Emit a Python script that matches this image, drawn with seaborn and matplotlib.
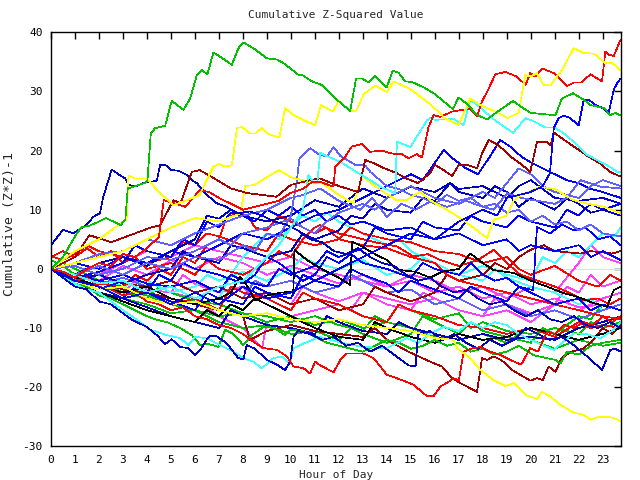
import matplotlib
matplotlib.use("Agg")
import matplotlib.pyplot as plt
import seaborn as sns
import pandas as pd

# ---- axis / text content ----
title = "Cumulative Z-Squared Value"
xlabel = "Hour of Day"
ylabel = "Cumulative (Z*Z)-1"
x_ticks = list(range(0, 24))
y_ticks = [-30, -20, -10, 0, 10, 20, 30, 40]

# ---- series: (hour, cumulative value) ----
zero_line = [(0, 0), (23.75, 0)]

green_top = [(0, 0), (0.5, 2), (1.0, 5.5), (1.25, 7), (1.6, 7.3), (2.0, 8), (2.3, 8.6), (2.9, 7.4), (3.1, 8.3),
             (3.2, 13.6), (3.9, 14.5), (4.02, 15), (4.16, 22.9), (4.34, 23.8), (4.76, 24.2), (5.03, 28.4),
             (5.52, 26.9), (5.80, 28.8), (6.08, 32.8), (6.29, 33.6), (6.52, 32.9), (6.77, 36.6), (7.12, 35.7),
             (7.54, 34.5), (7.81, 37.3), (8.02, 38.3), (8.44, 37.3), (9.0, 35.6), (9.42, 35.4), (9.69, 34.8),
             (10.32, 32.8), (10.46, 32.8), (10.88, 31.7), (11.29, 31.1), (11.92, 28.6), (12.47, 26.7),
             (12.72, 32.2), (12.96, 32.2), (13.24, 31.5), (13.49, 32.6), (14.0, 30.7), (14.24, 33.5),
             (14.48, 33.2), (14.77, 31.7), (15.05, 31.6), (15.53, 30.7), (15.95, 29.7), (16.23, 28.8),
             (16.76, 27.0), (16.99, 29.0), (17.34, 27.9), (17.76, 26.0), (18.18, 25.3), (18.73, 26.9),
             (19.26, 28.4), (19.57, 27.5), (19.98, 26.4), (20.4, 26.2), (21.03, 26.0), (21.3, 28.8),
             (21.76, 29.7), (22.21, 28.6), (22.49, 27.7), (23.04, 27.2), (23.32, 26.0), (23.53, 26.4),
             (23.75, 25.9)]

yellow_top = [(0, 0), (1, 3), (2, 5), (3, 8), (3.15, 8.3), (3.23, 15.8), (3.5, 15.3), (3.99, 15.3), (4.5, 13),
              (5.1, 10.8), (5.6, 11.5), (6.2, 12.5), (6.56, 15.6), (6.77, 17.3), (7.0, 17.7), (7.26, 17.3),
              (7.54, 17.5), (7.75, 23.8), (7.96, 24.0), (8.30, 22.9), (8.51, 22.9), (8.79, 23.8), (9.07, 22.8),
              (9.52, 22.2), (9.76, 27.2), (10.11, 26.0), (10.67, 24.9), (11.01, 24.3), (11.26, 27.7),
              (11.75, 26.6), (11.99, 28.4), (12.47, 26.7), (12.72, 26.7), (13.03, 29.5), (13.52, 31.0),
              (14.0, 29.9), (14.28, 31.7), (14.98, 30.4), (15.67, 28.3), (16.23, 26.3), (16.37, 25.6),
              (16.99, 24.3), (17.48, 28.8), (17.9, 27.7), (18.52, 26.6), (19.04, 25.5), (19.5, 26.4),
              (19.77, 32.8), (19.98, 32.5), (20.26, 33.1), (20.54, 31.1), (20.82, 31.0), (21.07, 32.4),
              (21.3, 33.6), (21.79, 37.3), (22.21, 36.5), (22.63, 36.4), (23.11, 34.8), (23.4, 34.8),
              (23.75, 33.6)]

red_top = [(0, 0), (0.5, -0.5), (1, -1.5), (1.5, 0), (2, 1), (2.5, 0.5), (3, 2.5), (3.5, 2), (4, 3.5), (4.5, 5.4),
           (4.7, 11.6), (5.2, 11), (5.6, 10.5), (6.2, 13.3), (6.6, 13), (7, 12), (7.5, 11), (8, 10), (8.5, 10.5),
           (9, 11), (9.5, 11.5), (9.97, 12.8), (10.5, 13.5), (10.88, 14.7), (11.22, 14.7), (11.78, 13.9),
           (11.85, 17.3), (12.27, 19.0), (12.54, 20.7), (12.96, 21.1), (13.3, 19.8), (13.8, 20.0), (14.2, 19.5),
           (14.63, 19.4), (14.9, 18.7), (15.25, 19.4), (15.46, 18.8), (15.74, 24.0), (15.95, 26.0),
           (16.23, 25.7), (16.72, 26.6), (17.2, 26.9), (17.48, 27.0), (17.76, 25.8), (17.97, 28.3),
           (18.25, 30.5), (18.52, 32.9), (18.94, 33.3), (19.43, 32.5), (19.78, 31.1), (19.98, 33.1),
           (20.19, 32.5), (20.47, 33.9), (20.96, 33.1), (21.51, 30.9), (21.79, 31.5), (22.1, 31.5),
           (22.49, 32.9), (22.97, 31.7), (23.11, 36.7), (23.25, 36.2), (23.46, 36.0), (23.75, 38.8)]

blue_top = [(0, 0), (1, -2), (2, -3), (3, -5), (4, -4), (5, -6), (6, -4), (7, -6), (8, -3), (9, -5), (10, -4),
            (11, -2), (12, 0), (13, 2), (14, 4), (15, 6), (16, 5), (17, 8), (18, 10), (18.6, 9), (19, 12),
            (19.5, 12.5), (20, 13), (20.5, 14), (20.8, 16.2), (20.96, 23.8), (21.17, 25.5), (21.38, 25.9),
            (21.6, 25.6), (22.0, 24.3), (22.21, 28.6), (22.45, 28.5), (22.7, 27.7), (23.0, 27.2),
            (23.25, 26.4), (23.46, 30.3), (23.6, 31.4), (23.75, 32.2)]

cyan_top = [(0, 0), (1, -1), (2, -2.5), (3, -2), (4, -4), (5, -3), (6, -5), (7, -3), (8, -2), (9, 2), (9.5, 4),
            (10, 7), (10.5, 10), (10.73, 15.9), (10.95, 14.5), (11.1, 14.5), (11.22, 19.6), (11.43, 19.2),
            (12.06, 18.1), (12.61, 16.7), (13.3, 15), (13.73, 13.9), (14.35, 12.8), (14.42, 21.5),
            (14.98, 20.6), (15.67, 25.1), (15.81, 25.5), (16.02, 25.2), (16.51, 25.3), (16.8, 25.3),
            (17.2, 24.3), (17.48, 28.6), (17.9, 27.3), (18.38, 25.5), (19.26, 23.0), (19.78, 25.5),
            (20.1, 25.0), (20.61, 23.9), (21.0, 23.9), (21.38, 22.9), (21.79, 21.5), (22.35, 19.3),
            (22.9, 18.1), (23.32, 17.2), (23.6, 16.4), (23.75, 16.4)]

darkred_top = [(0, 0), (1, 2), (1.6, 5.7), (2.5, 4.5), (3.3, 5.7), (4.1, 6.9), (4.55, 7.4), (5.1, 11.6),
               (5.4, 11.1), (5.87, 16.4), (6.2, 16.7), (6.8, 15.3), (7.5, 13.6), (8.2, 12.8), (9.4, 12.2),
               (10.0, 14.2), (10.8, 15.0), (11.2, 15.3), (12.0, 14.0), (12.8, 13.0), (13.1, 18.4), (13.45, 17.9),
               (13.9, 17.0), (14.4, 16.2), (14.8, 15.3), (15.3, 14.5), (15.81, 16.2), (16.0, 17.6),
               (16.37, 16.7), (16.72, 15.7), (17.0, 17.6), (17.34, 17.6), (17.76, 17.0), (17.97, 19.5),
               (18.25, 21.8), (18.66, 20.9), (19.15, 19.0), (19.57, 17.8), (19.98, 16.4), (20.26, 21.5),
               (20.68, 21.5), (20.82, 20.9), (20.98, 23.0), (21.5, 21.5), (21.9, 20.4), (22.4, 19.0),
               (22.9, 17.8), (23.3, 16.4), (23.75, 15.6)]

navy_topleft = [(0, 4), (0.5, 6.6), (0.93, 6.0), (1.5, 7.5), (1.76, 8.8), (2.04, 9.4), (2.18, 12.2), (2.53, 16.8),
                (2.81, 16.0), (3.09, 15.3), (3.23, 14.2), (3.5, 13.9), (3.85, 14.5), (4.41, 14.9), (4.55, 17.6),
                (4.76, 17.6), (5.03, 16.7), (5.31, 16.6), (5.66, 15.9), (5.87, 15.0), (6.08, 14.5), (6.5, 12.5),
                (6.91, 11.1), (7.3, 10.5), (7.75, 9.4), (8.3, 9.7), (8.8, 9), (9.3, 8), (9.8, 7.5), (10.3, 6.5),
                (10.8, 5), (11.3, 4.5), (11.8, 3), (12.3, 2.5), (12.8, 3.5), (13.3, 2), (13.8, 1), (14.3, 0.5),
                (14.8, -1), (15.3, -2), (15.8, -1.5), (16.3, -3), (16.8, -4), (17.3, -3.5), (17.8, -5),
                (18.3, -6), (18.8, -5.5), (19.3, -7), (19.8, -8), (20.3, -7), (20.8, -8.5), (21.3, -9),
                (21.8, -8), (22.3, -9.5), (22.8, -10), (23.3, -9), (23.75, -10)]

yellow_low = [(0, 0), (1, -2), (2, -3.5), (3, -3), (4, -5), (5, -6), (6, -5.5), (7, -7), (8, -8), (9, -7.5),
              (10, -8.5), (11, -9), (12, -8.5), (13, -9.5), (14, -10), (15, -10.5), (16.02, -11.7),
              (16.79, -12.0), (16.93, -13.4), (17.48, -15.1), (17.9, -17.1), (18.45, -18.8), (18.94, -19.8),
              (19.3, -19.3), (19.78, -21.3), (20.26, -22.0), (20.47, -20.8), (20.82, -21.6), (21.24, -23.0),
              (21.79, -24.3), (22.21, -24.7), (22.49, -25.5), (22.77, -25.1), (23.0, -25.1), (23.18, -25.0),
              (23.46, -25.2), (23.75, -25.8)]

red_low = [(0, 0), (0.5, -1), (1, -2), (1.5, -1.5), (2, -3), (2.5, -3.5), (3, -4.5), (3.5, -4), (4, -5.5),
           (4.5, -6), (5, -7), (5.5, -6.5), (6, -8), (6.5, -8.5), (7, -9.5), (7.5, -10), (8, -11), (8.5, -12.5),
           (8.86, -13.4), (9.42, -13.7), (9.83, -14.8), (10.11, -16.5), (10.53, -16.8), (10.8, -17.7),
           (11.01, -15.7), (11.22, -16.3), (11.78, -17.5), (12.06, -15.4), (12.34, -14.3), (13.03, -14.3),
           (13.45, -15.1), (14.0, -17.9), (14.63, -18.8), (15.11, -19.6), (15.67, -21.5), (15.95, -21.5),
           (16.23, -19.9), (16.57, -19.1), (16.79, -18.5), (17.0, -18.9), (17.2, -14.0), (17.5, -13.5),
           (17.9, -13.2), (18.3, -14), (18.7, -14.5), (19.2, -15.5), (19.6, -16.2), (19.98, -13.4),
           (20.3, -14), (20.68, -10.6), (21.0, -11), (21.4, -9.5), (21.8, -10), (22.2, -9), (22.6, -9.5),
           (23.0, -8), (23.4, -9), (23.75, -8)]

navy_low = [(0, 0), (0.5, -1.5), (1, -3), (1.5, -3.5), (2, -5.5), (2.5, -6), (3, -7.5), (3.37, -8.6),
            (3.99, -9.8), (4.41, -11.2), (4.76, -12.7), (5.03, -11.9), (5.38, -13.2), (5.73, -13.4),
            (6.01, -14.6), (6.22, -13.7), (6.49, -12.0), (6.63, -11.3), (6.91, -11.4), (7.33, -12.6),
            (7.81, -15.1), (8.02, -15.3), (8.16, -12.9), (8.5, -13.5), (9.0, -15.4), (9.42, -16.2),
            (9.76, -17.1), (9.97, -15.7), (10.11, -11.5), (10.3, -10.5), (10.8, -11), (11.3, -12),
            (11.8, -11.5), (12.3, -13), (12.8, -12.5), (13.3, -14), (13.8, -13), (14.3, -14.5), (14.9, -16.3),
            (15.2, -16.5), (15.3, -11), (15.8, -10.5), (16.3, -12), (16.8, -11), (17.3, -12.5), (17.8, -13.5),
            (18.3, -12), (18.8, -13), (19.3, -12), (19.8, -10), (20.3, -11), (20.8, -12), (21.3, -11.5),
            (21.79, -12.9), (22.35, -14.8), (22.97, -17.1), (23.32, -13.7), (23.5, -13.5), (23.75, -14.0)]

cyan_low = [(0, 0), (0.5, -1.5), (1, -2.5), (1.5, -3.5), (2, -4), (2.5, -5.5), (3, -7), (3.58, -8.6),
            (4.13, -10.3), (4.83, -11.2), (5.38, -11.7), (5.73, -12.9), (6.01, -11.5), (6.49, -11.7),
            (6.91, -12.6), (7.61, -14.0), (8.02, -15.1), (8.44, -15.7), (8.79, -16.8), (9.27, -15.1),
            (9.62, -14.8), (9.97, -16.0), (10.11, -13.4), (10.6, -12.5), (11.22, -11.5), (12.1, -12.5),
            (13.03, -13.2), (14.0, -13.4), (14.84, -11.7), (15.3, -12.5), (15.8, -11), (16.37, -9.8),
            (17, -10.5), (17.5, -9), (18, -10), (18.5, -9), (19, -9.5), (19.5, -11), (20, -12),
            (20.96, -13.7), (21.79, -10.9), (22.3, -11), (22.9, -11.7), (23.46, -10.3), (23.75, -9)]

green_low = [(0, 0), (0.5, -1), (1, -2.5), (1.5, -3), (2, -4.5), (2.5, -5), (3, -6), (3.5, -7), (4, -8),
             (4.41, -8.6), (4.83, -9.0), (5.38, -10.0), (5.87, -11.2), (6.22, -12.9), (6.56, -12.7),
             (6.98, -13.2), (7.26, -10.3), (7.6, -11), (8.02, -12.9), (8.37, -11.2), (8.86, -9.8), (9.3, -10),
             (9.76, -11.2), (9.97, -10.3), (10.5, -10.5), (11, -11.5), (11.5, -12.5), (12, -13), (12.5, -13.5),
             (13, -14), (13.5, -13), (14, -12), (14.5, -12.5), (15, -13.5), (15.5, -13), (16, -12),
             (16.5, -13), (17, -12.5), (17.5, -14), (18, -13.5), (18.5, -14.5), (19, -14), (19.5, -13),
             (20.13, -14.6), (20.68, -15.1), (21.03, -15.4), (21.24, -16.0), (21.51, -14.0), (22, -14.5),
             (22.5, -13), (23, -12.5), (23.75, -12)]

magenta_1 = [(0, 0), (1, -1.5), (2, -2), (3, 0.5), (4, -1), (5, 1.5), (6, 0), (7, 2), (8, 1), (9, -1), (10, 0.5),
             (11, -1), (12, -2.5), (13, -1), (14, -3), (15, -2), (16, -4), (17, -3), (18, -5), (19, -4),
             (20, -6), (21, -5), (22, -6.5), (23, -6), (23.75, -7)]
magenta_2 = [(0, 0), (1, -2), (1.5, -1), (2, -3), (3, -4), (3.5, -2), (4, -3.5), (5, -4), (5.5, -1), (6, -2.5),
             (7, -4), (8, -3), (8.5, -5), (9, -4), (10, -6), (10.5, -3), (11, -4), (12, -5.5), (13, -4),
             (14, -6), (15, -7), (15.5, -4), (16, -5), (17, -7), (18, -8), (18.5, -5), (19, -6), (20, -7.5),
             (21, -6), (21.5, -3), (22, -4), (22.5, -1), (23, -3), (23.75, -2)]
magenta_3 = [(0, 0), (1, -1), (2, -2.5), (3, -3), (4, -2), (5, -4), (6, -5), (7, -8), (8, -10), (8.8, -13.4),
             (9.0, -9), (10, -8), (11, -7), (12, -6), (12.5, -7), (13, -4), (14, -5), (15, -6), (16, -5),
             (17, -7), (18, -8), (19, -7), (20, -9), (21, -6), (22, -7), (23, -5), (23.75, -4)]
magenta_4 = [(0, 0), (1, -2), (2, -1), (3, 1), (4, 3), (5, 2), (6, 4), (7, 3), (8, 2), (9, 1), (10, 2), (11, 0),
             (12, -1), (13, -2), (14, -3), (15, -1), (16, -2), (17, -4), (18, -3), (19, -5), (20, -3), (21, -4),
             (22, 1), (22.5, 4), (23, 2), (23.75, 1)]

black_1 = [(0, 0), (1, -1.5), (2, -3), (3, -4), (4, -3), (5, -5), (6, -6), (7, -5), (7.5, -4), (7.88, -1.3),
           (8.2, -3), (8.51, -5.3), (9, -4.5), (9.6, -4), (10.1, -3.9), (10.15, 3.2), (10.67, 1.5),
           (11.36, -0.2), (12.0, -1.5), (12.47, -2.7), (12.55, 4.6), (12.96, 3.8), (13.5, 2.5), (14.0, 1.5),
           (14.35, 0.1), (14.56, -0.2), (15.2, -0.5), (15.81, -1.5), (16.3, -0.5), (17.0, 0), (17.48, 2.6),
           (18.0, 1), (18.45, -0.2), (19.3, -0.7), (20.0, -2), (20.68, -3.0), (21.3, -4), (21.93, -4.7),
           (22.63, -5.8), (23.18, -6.4), (23.46, -3.6), (23.75, -3.0)]
black_2 = [(0, 0), (1, -2.5), (2, -4), (3, -5.5), (4, -7), (5, -8), (6, -9), (6.5, -7), (7, -8), (7.5, -6),
           (8, -7), (8.5, -5), (9, -6), (10, -8), (10.5, -9), (11, -10), (12, -11.5), (13, -12), (13.5, -9),
           (14, -10), (15, -11.5), (16, -12.5), (17, -11), (18, -12), (19, -11.5), (20, -10), (21, -11),
           (22, -12), (23, -11), (23.75, -10)]

red_mid = [(0, 2), (0.5, 3), (1, 2), (1.5, 3.5), (2, 2), (2.5, 3), (3, 1), (3.5, 2), (4, 0), (5, 1), (6, -1),
           (6.5, 1.5), (7, 0), (8, -1), (9, 1), (9.5, 3), (10, 2), (10.5, 5), (11, 7), (11.22, 7.4), (12, 6),
           (12.61, 5.4), (13.5, 4.5), (14.42, 3.8), (15.11, 2.1), (15.7, 2.5), (16.23, 1.5), (17, 0.5),
           (17.8, 1.5), (18.45, 3.2), (19, 1), (19.57, -1.0), (20.3, -2), (21, -3), (21.6, -4), (22.21, -5.3),
           (22.8, -5), (23.3, -6), (23.75, -5)]
red_2 = [(0, 0), (1, -1), (2, -2.5), (3, -3), (3.5, -1), (4, -2), (4.5, 0), (5, -1), (5.5, 2), (6, 1),
         (6.5, 4), (7, 5), (7.3, 8.5), (7.8, 9.5), (8.2, 9), (8.5, 7), (9, 6.5), (9.5, 9), (10, 8), (10.5, 7),
         (11, 6), (11.5, 7), (12, 5), (13, 4), (14, 3.5), (15, 2), (16, 1), (16.5, -1), (17, -2), (18, -3),
         (19, -4), (20, -5), (21, -6), (22, -7), (23, -8), (23.75, -8.5)]
red_3 = [(0, 0), (1, -2), (2, -3.5), (3, -3), (4, -5), (5, -6), (6, -5), (7, -7), (7.5, -3), (8, -4), (9, -5),
         (10, -7), (10.5, -4), (11, -5), (12, -6), (13, -8), (14, -9), (14.5, -6), (15, -7), (16, -8),
         (17, -9.5), (18, -10), (19, -11), (20, -10), (21, -11.5), (22, -9), (22.5, -10), (23, -9.5),
         (23.75, -10)]
red_4 = [(0, 2.1), (0.5, 1.5), (1, 2.5), (1.5, 4), (2, 3), (3, 2), (4, 1), (5, 2), (5.5, 4.5), (6, 4), (6.5, 6),
         (7, 5.5), (8, 4), (9, 3), (9.5, 6), (10, 5), (11, 4), (12, 5), (12.5, 7), (13, 6), (14, 5), (15, 4.5),
         (16, 3), (17, 2.5), (18, 1), (19, 2), (19.5, 0), (20, -1), (21, 0.5), (22, -2), (22.8, -3),
         (23.3, -1), (23.75, -2)]

blue_1 = [(0, 0), (1, -1.5), (2, -0.5), (3, 1), (3.5, 4), (4, 3), (5, 2), (5.5, 5), (6, 4), (6.5, 8), (7, 7),
          (7.5, 9.5), (8, 9), (8.5, 8), (9, 10), (9.5, 9), (10, 10.5), (10.5, 9), (11, 10), (11.5, 8), (12, 9),
          (12.5, 7.5), (13, 8), (14, 6.5), (15, 7), (16, 5), (17, 6), (18, 4), (19, 5), (19.5, 3), (20, 4),
          (21, 3), (22, 4), (22.5, 2), (23, 3), (23.75, 1.5)]
blue_2 = [(0, 0), (0.5, -1), (1, -2), (2, -3.5), (3, -2), (4, -4), (4.5, -1), (5, -2), (5.5, 1), (6, 0),
          (7, -1), (8, -2.5), (8.5, -1), (9, 2), (9.5, 1), (10, -0.5), (10.5, -2), (11, -1), (11.5, 2), (12, 1),
          (12.5, 2.5), (13, 1), (14, 0), (15, -1.5), (15.5, 1), (16, 0), (17, -1), (17.5, 1), (18, -1),
          (18.5, -2), (19, -1.5), (19.5, -3), (20.1, -3.6), (20.26, 7.1), (20.8, 6), (21.3, 7.5), (21.8, 6.5),
          (22.3, 7), (22.8, 5), (23.3, 5.5), (23.75, 4)]
blue_3 = [(0, 0), (1, -2), (2, -3), (3, -5), (3.5, -3), (4, -4), (5, -5.5), (6, -7), (6.5, -4), (7, -5),
          (8, -6), (8.5, -3), (9, -4), (10, -5), (10.5, -1), (11, -2), (12, -3), (12.5, 0), (13, -1),
          (14, -2.5), (14.5, -4), (15, -2), (16, -3.5), (17, -5), (17.5, -3), (18, -4), (19, -5.5), (19.5, -3),
          (20, -4), (21, -6), (22, -5), (22.5, -7), (23, -6), (23.75, -7)]
blue_4 = [(0, 0), (1, -1), (2, -2), (3, -1), (4, -2.5), (5, -3), (6, -2), (7, -4), (7.5, -1), (8, -2), (9, -3),
          (9.5, 0), (10, -1), (11, 0.5), (11.5, 3), (12, 2), (13, 3.5), (13.5, 7), (14, 6), (15, 5), (15.5, 8),
          (16, 7), (17, 6.5), (17.5, 9), (18, 8), (19, 7), (19.5, 9), (20, 8), (21, 7), (21.5, 10), (22, 9),
          (22.5, 11), (23, 10), (23.75, 11)]
blue_5 = [(0, 0), (1, 1), (2, 0), (3, 2), (4, 1), (5, 3), (6, 2), (7, 4), (8, 6), (9, 5), (10, 7), (11, 9),
          (12, 10), (13, 12), (14, 14), (15, 16), (15.5, 15), (16.37, 20.1), (16.8, 18.5), (17.3, 17),
          (17.8, 16), (18.3, 19), (18.73, 21.8), (19.2, 20.5), (19.6, 19), (20, 18), (20.5, 17), (21, 16),
          (21.5, 15), (22, 14.5), (22.5, 13.5), (23, 13), (23.75, 12)]

navy_1 = [(0, 0), (1, -2), (2, -1), (3, -2.5), (4, -1), (5, 0), (5.5, 3), (6, 2), (7, 1), (7.5, 4), (8, 3.5),
          (9, 2), (10, 3), (10.5, 6), (11, 5), (12, 6.5), (12.5, 9), (13, 8.5), (13.5, 11), (14, 10),
          (15, 9.5), (15.5, 12), (16, 11.5), (16.64, 14.5), (17, 13), (18, 12), (18.5, 14), (19, 13),
          (19.5, 10.5), (20, 12), (20.5, 11), (21, 10), (21.5, 12), (22, 11), (22.5, 9.5), (23, 10),
          (23.75, 9)]
navy_2 = [(0, 0), (1, -2.5), (2, -4), (3, -5), (4, -6.5), (5, -8), (6, -9), (7, -10), (7.5, -7), (8, -8),
          (9, -9.5), (10, -10), (11, -11), (11.5, -8), (12, -9), (13, -10.5), (14, -11), (14.5, -9), (15, -10),
          (16, -11), (17, -12), (18, -11), (19, -12), (20, -11.5), (21, -12), (22, -10), (23, -9), (23.75, -8)]
navy_3 = [(0, 0), (1, -1), (2, 1), (3, 2), (4, 0.5), (5, 3), (6, 5), (6.5, 9), (7, 8.5), (7.5, 10), (8, 9),
          (9, 8), (10, 9), (11, 11.6), (12, 10.5), (13, 13.6), (14, 12), (15, 13.9), (16, 13), (16.64, 14.5),
          (17, 13.5), (18, 14), (19, 12), (19.5, 14), (20, 15), (20.5, 13.5), (21, 12), (22, 11.5), (23, 12),
          (23.75, 11)]

lightblue_1 = [(0, 0), (1, -1), (2, 0.5), (3, -1), (4, 1), (5, 0), (6, 2), (7, 1.5), (8, 4), (8.5, 3), (9, 6),
               (9.5, 5.5), (10, 9), (10.25, 15), (10.36, 18.7), (10.81, 20.4), (11.15, 19.4), (11.5, 19.0),
               (11.78, 20.6), (12.06, 19.1), (12.68, 17.6), (13.1, 17.5), (13.31, 16.4), (14, 14), (14.5, 13.5),
               (15, 12.5), (15.5, 12), (16, 11), (16.5, 12.5), (17, 11.5), (17.5, 12), (18, 10.5), (18.5, 11),
               (19, 9.5), (19.5, 10), (20, 8), (20.5, 9), (21, 7.5), (21.5, 8), (22, 6.5), (22.5, 7.5), (23, 6),
               (23.75, 5.5)]
lightblue_2 = [(0, 0), (1, 1), (2, 2.5), (3, 3), (4, 5), (5, 4), (6, 6), (7, 7.5), (8, 9), (9, 10), (10, 12),
               (10.5, 12.5), (11.22, 13.6), (12, 11.5), (12.89, 10.0), (13.4, 12), (14.0, 8.8), (14.6, 11),
               (15.2, 10), (15.81, 11.4), (16.5, 10.5), (17.3, 11.5), (18, 10.5), (18.45, 10.0), (19.02, 12.8),
               (19.6, 12), (20.13, 11.6), (21, 11), (21.5, 12), (22.07, 15.0), (22.9, 13.9), (23.75, 13.6)]
lightblue_3 = [(0, 0), (1, -1), (2, -2.5), (3, -1.5), (4, -3), (5, -2), (6, -4), (7, -3), (8, -5), (8.5, -2),
               (9, -3), (10, -2), (11, -4), (12, -3), (12.5, -1), (13, -2), (14, -4), (15, -3.5), (16, -6),
               (17, -5), (18, -7), (19, -6), (20, -8), (21, -7), (22, -8.5), (23, -7), (23.75, -6)]
lightblue_4 = [(0, 0), (1, 0.5), (2, -1), (3, 0), (4, 2), (5, 1.5), (6, 3), (7, 5), (7.5, 4), (8, 6), (9, 7),
               (10, 8.5), (10.5, 7), (11, 6), (11.5, 8), (12, 9.5), (13, 11), (13.5, 10), (14, 12), (15, 14),
               (15.5, 13), (16, 12), (17, 11), (18, 13), (18.5, 12), (19, 14.5), (19.5, 17), (20, 16),
               (20.5, 14), (21, 13), (22, 12), (22.5, 14), (23, 15), (23.75, 14)]

yellow_mid = [(0, 0), (1, 1), (2, 2), (3, 3), (4, 5), (5, 7), (6, 8.6), (7, 8), (7.9, 9.4), (8.1, 14),
              (8.5, 14.2), (9, 15.5), (9.5, 16.7), (10, 15.5), (10.5, 15), (11, 14.5), (11.3, 14.5), (12, 12.5),
              (12.6, 11.1), (13.0, 15.6), (13.5, 14), (14.4, 11.6), (14.8, 11.6), (15.4, 13.1), (15.8, 11.6),
              (16.5, 10), (17.06, 8.6), (17.6, 7), (18.18, 5.2), (18.45, 8.3), (19, 9), (19.3, 11.6),
              (19.6, 12.5), (20.4, 13.9), (21, 13.5), (21.79, 11.6), (22.4, 11), (23.04, 10.5), (23.75, 9.4)]

cyan_mid = [(0, 0), (1, -1.5), (2, -1), (3, -3), (4, -2), (5, -4), (6, -3), (6.5, -1), (7, -2), (8, -0.5),
            (9, -2), (10, 0), (10.5, 2), (11, 1), (12, 0), (13, 1.5), (14, -1), (15, 0), (15.5, 2), (16, 1),
            (17, -1), (18, 0.5), (19, -1), (20, -2), (20.5, 2), (21, 1), (21.5, 3), (22, 2), (22.5, 4), (23, 6),
            (23.5, 5.5), (23.75, 7)]
cyan_mid2 = [(0, 0), (1, -2), (2, -3), (3, -4.5), (4, -3), (5, -5), (6, -6), (6.5, -4), (7, -5), (7.5, -1),
             (8, 2), (8.5, 4), (9, 6), (9.5, 5), (10, 7), (10.5, 9), (11, 8), (11.5, 9.5), (12, 8), (13, 6),
             (14, 4), (14.5, 5), (15, 3), (16, 1), (17, -1), (18, -2), (18.5, 0), (19, -1.5), (20, -3), (21, -4),
             (22, -6), (22.5, -5), (23, -7), (23.75, -6)]

darkred_2 = [(0, 0), (1, -1), (2, -2), (3, -3.5), (4, -4), (5, -5), (6, -6), (7, -7), (8, -8), (8.3, -12),
             (9, -10.5), (10, -9.5), (11, -10.5), (12, -11), (13, -11.5), (13.5, -10), (14, -12), (14.9, -14.0),
             (15.81, -15.7), (16.3, -16.5), (16.72, -18.5), (17.06, -19.3), (17.76, -20.8), (17.97, -15.1),
             (18.18, -15.4), (18.45, -14.8), (18.8, -15.5), (19.22, -17.1), (19.98, -18.9), (20.26, -18.5),
             (20.5, -18.8), (20.75, -16.5), (21.03, -17.4), (21.3, -15), (21.7, -14), (22.2, -13.5),
             (22.6, -12), (23, -10), (23.4, -11), (23.75, -9.5)]
darkred_3 = [(0, 0), (1, -1.5), (2, -1), (3, -2.5), (4, -3), (5, -2), (6, -4), (7, -3), (8, -5), (9, -4),
             (10, -6), (11, -5), (12, -7), (13, -6), (13.5, -3), (14, -4), (15, -5.5), (16, -4), (16.5, -1),
             (17, -2), (18, -1), (18.5, 1), (19, 0), (19.5, 2), (19.98, 3.2), (20.54, 4.0), (21, 3),
             (22.07, 2.6), (22.5, 3), (23.4, 2.6), (23.75, 3)]

green_mid = [(0, 1.5), (0.5, 0.5), (1, -1), (2, -2), (3, -3.5), (4, -4.5), (5, -6), (6, -7), (7, -8),
             (8, -7.5), (9, -9), (10, -8), (11, -9.5), (12, -8.5), (13, -10), (14, -9), (14.5, -6), (15, -7),
             (16, -8.5), (17, -7.5), (17.5, -10), (18, -9), (19, -10.5), (20, -11), (21, -10), (22, -11),
             (22.5, -9), (23, -10), (23.75, -9)]
green_mid2 = [(0, 0), (1, -2), (2, -3), (3, -5), (4, -6), (5, -7.5), (6, -7), (7, -9), (8, -10), (9, -9.5),
              (10, -11), (11, -10.5), (12, -12), (12.5, -10), (13, -11), (14, -12.5), (15, -11), (15.5, -8),
              (16, -9), (17, -11), (17.5, -9), (18, -10.5), (19, -11.5), (20, -12.5), (20.5, -10), (21, -11),
              (22, -8), (22.5, -8.5), (23, -6), (23.75, -7)]
green_mid3 = [(0, 0), (0.5, 1), (1, 0), (1.5, -1), (2, -2), (3, -4), (4, -5), (4.5, -3), (5, -4), (6, -5.5),
              (7, -6), (8, -7.5), (9, -8), (10, -9), (11, -8), (12, -9.5), (13, -10.5), (13.5, -8), (14, -9),
              (15, -10), (16, -11.5), (17, -12), (18, -11), (19, -12.5), (19.5, -11), (20, -12), (21, -13.5),
              (22, -12), (23, -13), (23.75, -12.5)]

# ---- gnuplot-like colours ----
RED, GREEN, BLUE, MAGENTA = "#ff0000", "#00c000", "#0000ff", "#ff40ff"
CYAN, YELLOW, BLACK = "#40ffff", "#ffff00", "#000000"
DARKRED, NAVY, LIGHTBLUE = "#a00000", "#0000c0", "#6060ff"

series = [
    ("zero_line", YELLOW, zero_line),
    ("magenta_1", MAGENTA, magenta_1), ("magenta_2", MAGENTA, magenta_2),
    ("magenta_3", MAGENTA, magenta_3), ("magenta_4", MAGENTA, magenta_4),
    ("green_mid", GREEN, green_mid), ("green_mid2", GREEN, green_mid2), ("green_mid3", GREEN, green_mid3),
    ("cyan_mid", CYAN, cyan_mid), ("cyan_mid2", CYAN, cyan_mid2),
    ("lightblue_3", LIGHTBLUE, lightblue_3), ("navy_2", NAVY, navy_2),
    ("darkred_3", DARKRED, darkred_3), ("darkred_2", DARKRED, darkred_2),
    ("red_2", RED, red_2), ("red_3", RED, red_3), ("red_4", RED, red_4), ("red_mid", RED, red_mid),
    ("blue_1", BLUE, blue_1), ("blue_2", BLUE, blue_2), ("blue_3", BLUE, blue_3),
    ("blue_4", BLUE, blue_4), ("blue_5", BLUE, blue_5),
    ("navy_1", NAVY, navy_1), ("navy_3", NAVY, navy_3),
    ("lightblue_1", LIGHTBLUE, lightblue_1), ("lightblue_2", LIGHTBLUE, lightblue_2),
    ("lightblue_4", LIGHTBLUE, lightblue_4),
    ("yellow_mid", YELLOW, yellow_mid),
    ("black_1", BLACK, black_1), ("black_2", BLACK, black_2),
    ("green_low", GREEN, green_low), ("cyan_low", CYAN, cyan_low), ("navy_low", NAVY, navy_low),
    ("red_low", RED, red_low), ("yellow_low", YELLOW, yellow_low),
    ("navy_topleft", NAVY, navy_topleft), ("darkred_top", DARKRED, darkred_top),
    ("cyan_top", CYAN, cyan_top), ("blue_top", BLUE, blue_top), ("red_top", RED, red_top),
    ("yellow_top", YELLOW, yellow_top), ("green_top", GREEN, green_top),
]

rows = []
for name, _, pts in series:
    for h, v in pts:
        rows.append((name, h, v))
df = pd.DataFrame(rows, columns=["line", "hour", "value"])
palette = {name: color for name, color, _ in series}

sns.set_style("white")
plt.rcParams["font.family"] = ["DejaVu Sans Mono", "DejaVu Sans"]

fig = plt.figure(figsize=(6.4, 4.8), dpi=100)
ax = fig.add_axes([51 / 640, 1 - 446.3 / 480, (620.7 - 51) / 640, (446.3 - 32.3) / 480])

sns.lineplot(data=df, x="hour", y="value", hue="line", units="line", estimator=None, sort=False,
             palette=palette, hue_order=[s[0] for s in series], legend=False, linewidth=0.5, ax=ax)
for ln in ax.lines:
    ln.set_antialiased(False)
    ln.set_solid_joinstyle("miter")
    ln.set_solid_capstyle("butt")

ax.set_xlim(0, 23.75)
ax.set_ylim(-30, 40)
ax.set_xticks(x_ticks)
ax.set_xticklabels([str(t) for t in x_ticks])
ax.set_yticks(y_ticks)
ax.set_yticklabels([str(t) for t in y_ticks])
ax.tick_params(direction="in", length=5, width=1, top=True, right=True, labelsize=8, pad=6, colors="black")
for sp in ax.spines.values():
    sp.set_visible(True)
    sp.set_color("black")
    sp.set_linewidth(1.0)

ax.set_title(title, fontsize=8, pad=10)
ax.set_xlabel(xlabel, fontsize=8, labelpad=4)
ax.set_ylabel(ylabel, fontsize=9.5)
ax.yaxis.set_label_coords(-0.062, 0.537)
ax.grid(False)

fig.savefig("out.png", dpi=100)
